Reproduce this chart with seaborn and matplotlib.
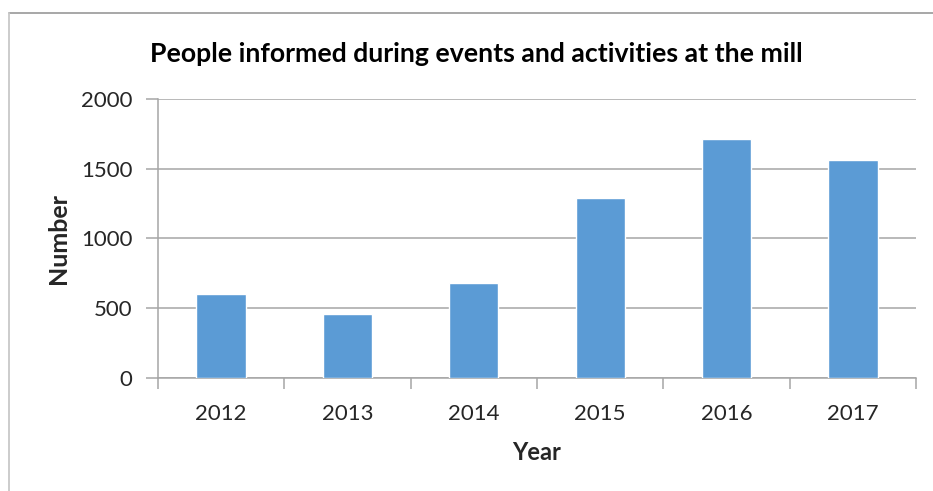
import matplotlib
matplotlib.use("Agg")
import matplotlib.pyplot as plt
from matplotlib.lines import Line2D
import seaborn as sns
import pandas as pd
import numpy as np

years = ["2012", "2013", "2014", "2015", "2016", "2017"]
people = [600, 455, 682, 1293, 1713, 1562]
y_ticks = [0, 500, 1000, 1500, 2000]

sns.set_style("white")
plt.rcParams["font.family"] = ["Lato", "DejaVu Sans"]

df = pd.DataFrame({"Year": years, "Number": people})

fig = plt.figure(figsize=(9.33, 4.91), dpi=100)
ax = fig.add_axes([0.169, 0.2308, 0.813, 0.567])

sns.barplot(data=df, x="Year", y="Number", color="#5B9BD5", saturation=1,
            width=0.39, ax=ax, zorder=3)

grid_c = "#a6a6a6"
ax.set_ylim(0, 2000)
ax.set_yticks(y_ticks)
ax.set_xlim(-0.5, len(years) - 0.5)
ax.yaxis.grid(True, color=grid_c, linewidth=1.1, zorder=0)
ax.set_axisbelow(True)

for s in ["top", "right"]:
    ax.spines[s].set_visible(False)
for s in ["left", "bottom"]:
    ax.spines[s].set_color(grid_c)
    ax.spines[s].set_linewidth(1.1)

ax.tick_params(axis="y", which="major", length=9, width=1.1, color=grid_c,
               labelsize=16, labelcolor="#262626", pad=9, left=True)
ax.tick_params(axis="x", which="major", length=0, labelsize=16,
               labelcolor="#262626", pad=19)
ax.set_xticks(np.arange(-0.5, len(years)), minor=True)
ax.tick_params(axis="x", which="minor", length=8, width=1.1, color=grid_c,
               bottom=True)

ax.set_xlabel("Year", fontsize=17, fontweight="bold", labelpad=12)
ax.set_ylabel("Number", fontsize=18, fontweight="bold", labelpad=8)

fig.text(0.51, 0.89, "People informed during events and activities at the mill",
         ha="center", va="center", fontsize=19.2, fontweight="bold", color="black")

# frame lines along the top and left edges of the chart area
fig.add_artist(Line2D([9 / 933, 1.0], [1 - 13 / 491, 1 - 13 / 491],
                      transform=fig.transFigure, color="#a0a0a0", linewidth=1.3))
fig.add_artist(Line2D([9 / 933, 9 / 933], [0.0, 1 - 13 / 491],
                      transform=fig.transFigure, color="#c8c8c8", linewidth=1.3))

fig.savefig("out.png", dpi=100)
